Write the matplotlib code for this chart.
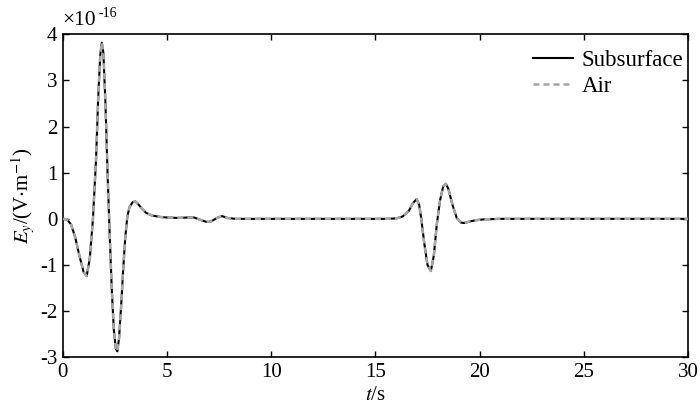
import matplotlib
matplotlib.use("Agg")
import matplotlib.pyplot as plt

plt.rcParams["font.family"] = ["Liberation Serif", "DejaVu Serif"]
plt.rcParams["mathtext.fontset"] = "stix"
plt.rcParams["axes.unicode_minus"] = False

# time (s) and E_y in units of 1e-16 V/m
t = [0.0, 0.2, 0.4, 0.6, 0.8, 1.0, 1.15, 1.3, 1.45, 1.6, 1.7, 1.8, 1.875,
     1.95, 2.05, 2.15, 2.25, 2.35, 2.45, 2.55, 2.62, 2.7, 2.8, 2.9, 3.0,
     3.1, 3.2, 3.35, 3.48, 3.6, 3.8, 4.0, 4.3, 4.7, 5.0, 5.5, 6.0, 6.3,
     6.6, 6.9, 7.1, 7.4, 7.64, 7.9, 8.3, 9.0, 12.0, 15.5, 16.0, 16.3,
     16.6, 16.8, 16.98, 17.1, 17.2, 17.35, 17.5, 17.66, 17.8, 17.95,
     18.1, 18.25, 18.38, 18.5, 18.7, 18.9, 19.1, 19.26, 19.5, 19.8,
     20.2, 21.0, 25.0, 30.0]
ey = [0.0, -0.01, -0.12, -0.4, -0.8, -1.15, -1.24, -0.85, 0.0, 1.3, 2.6,
      3.55, 3.82, 3.6, 2.5, 1.0, -0.3, -1.5, -2.4, -2.82, -2.87, -2.6,
      -1.9, -1.1, -0.4, 0.05, 0.25, 0.36, 0.38, 0.33, 0.22, 0.13, 0.07,
      0.04, 0.03, 0.02, 0.03, 0.03, -0.02, -0.065, -0.06, 0.02, 0.06,
      0.02, 0.0, 0.0, 0.0, 0.0, 0.01, 0.05, 0.17, 0.34, 0.43, 0.3, 0.0,
      -0.55, -1.0, -1.13, -0.8, -0.1, 0.4, 0.7, 0.76, 0.65, 0.3, 0.02,
      -0.08, -0.09, -0.06, -0.03, -0.01, 0.0, 0.0, 0.0]

xticks = [0, 5, 10, 15, 20, 25, 30]
yticks = [-3, -2, -1, 0, 1, 2, 3, 4]

fig = plt.figure(figsize=(7.0, 4.11), dpi=100)
ax = fig.add_axes([0.0896, 0.1307, 0.8934, 0.7858])

ax.plot(t, ey, color="black", lw=1.5, label="Subsurface", zorder=2)
ax.plot(t, ey, color="#a6a6a6", lw=1.8, dashes=(2.4, 1.6), label="Air", zorder=3)

ax.set_xlim(0, 30)
ax.set_ylim(-3, 4)
ax.set_xticks(xticks)
ax.set_yticks(yticks)
ax.tick_params(direction="in", top=True, right=True, length=4, width=1,
               labelsize=15, pad=4)
for s in ax.spines.values():
    s.set_linewidth(1.2)

ax.set_xlabel(r"$t$/s", fontsize=15, labelpad=3)
ax.set_ylabel(r"$E_y$/(V$\cdot$m$^{-1}$)", fontsize=15, labelpad=2)

# offset label: ×10 with a small raised -16
ax.text(0.0, 1.012, "\u00d710", transform=ax.transAxes,
        fontsize=15.5, ha="left", va="bottom")
ax.text(0.058, 1.045, "-16", transform=ax.transAxes,
        fontsize=10, ha="left", va="bottom")

ax.legend(loc="upper right", bbox_to_anchor=(1.0, 0.966), frameon=False,
          fontsize=16.5, handlelength=1.75, handletextpad=0.4,
          labelspacing=0.2, borderpad=0.0, borderaxespad=0.2)

fig.savefig("out.png", dpi=100)
